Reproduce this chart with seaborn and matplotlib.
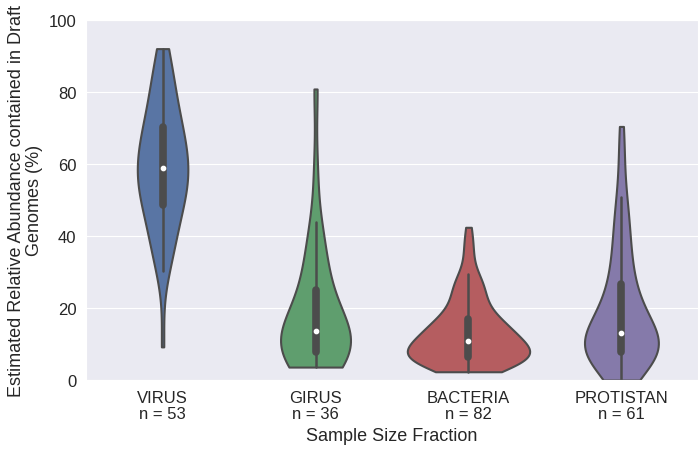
import numpy as np
import pandas as pd
import matplotlib
matplotlib.use("Agg")
import matplotlib.pyplot as plt
import seaborn as sns

# categories and tick labels
fractions = ["VIRUS", "GIRUS", "BACTERIA", "PROTISTAN"]
tick_labels = ["VIRUS\nn = 53", "GIRUS\nn = 36", "BACTERIA\nn = 82", "PROTISTAN\nn = 61"]
colors = ["#4C72B0", "#55A868", "#C44E52", "#8172B2"]

# estimated relative abundance (%) per sample
virus = [9.2, 30.3, 32.0, 34.0, 35.8, 37.5, 39.2, 41.0, 42.6, 44.0, 45.3, 46.4, 47.5,
         48.7, 49.6, 50.5, 51.4, 52.3, 53.1, 53.9, 54.7, 55.5, 56.3, 57.0, 57.6, 58.2,
         58.8, 59.5, 60.3, 61.2, 62.1, 63.0, 63.8, 64.7, 65.6, 66.6, 67.6, 68.5, 69.4,
         70.2, 71.3, 72.5, 73.8, 75.2, 76.7, 78.3, 80.0, 81.8, 83.6, 85.5, 87.5, 89.8, 92.0]
girus = [3.6, 4.2, 4.9, 5.5, 6.0, 6.5, 6.9, 7.2, 7.4, 7.8, 8.3, 8.9, 9.6, 10.3, 11.1,
         11.9, 12.7, 13.3, 13.9, 14.6, 15.5, 16.6, 17.8, 19.2, 20.8, 22.5, 24.6, 26.6,
         29.0, 31.5, 34.0, 37.0, 40.5, 44.0, 58.0, 80.8]
bacteria = [2.3, 2.8, 3.2, 3.6, 3.9, 4.2, 4.4, 4.6, 4.8, 5.0, 5.1, 5.3, 5.4, 5.6, 5.7,
            5.8, 5.9, 6.0, 6.1, 6.2, 6.3,
            6.5, 6.7, 6.9, 7.1, 7.3, 7.5, 7.7, 7.9, 8.1, 8.3, 8.5, 8.7, 8.9, 9.1, 9.3,
            9.6, 9.9, 10.2, 10.5, 10.7,
            10.9, 11.2, 11.5, 11.8, 12.1, 12.4, 12.7, 13.0, 13.3, 13.6, 13.9, 14.2, 14.5,
            14.8, 15.1, 15.4, 15.7, 16.0, 16.3, 16.7,
            17.0, 17.6, 18.3, 19.0, 19.8, 20.6, 21.4, 22.2, 23.0, 23.8, 24.6, 25.4, 26.2,
            27.0, 27.8, 28.6, 29.4, 33.5, 36.0, 38.6, 42.4]
protistan = [0.0, 2.6, 3.9, 4.8, 5.4, 5.9, 6.3, 6.6, 6.8, 7.0, 7.15, 7.3, 7.4, 7.5, 7.6, 7.7,
             8.0, 8.3, 8.6, 8.9, 9.2, 9.5, 9.8, 10.2, 10.6, 11.0, 11.4, 11.8, 12.2, 12.6, 13.0,
             13.6, 14.3, 15.0, 15.8, 16.6, 17.4, 18.2, 19.0, 19.9, 20.8, 21.8, 22.8, 23.9,
             25.2, 26.7,
             28.2, 29.8, 31.5, 33.3, 35.2, 37.2, 39.3, 41.5, 43.8, 46.2, 48.6, 50.9, 58.0,
             64.0, 70.4]

df = pd.DataFrame({
    "fraction": ["VIRUS"] * len(virus) + ["GIRUS"] * len(girus)
                + ["BACTERIA"] * len(bacteria) + ["PROTISTAN"] * len(protistan),
    "abundance": virus + girus + bacteria + protistan,
})

sns.set_style("darkgrid")
plt.rcParams["font.family"] = ["Liberation Sans", "DejaVu Sans"]

fig, ax = plt.subplots(figsize=(7, 4.52), dpi=100)
fig.subplots_adjust(left=0.123, right=0.997, top=0.954, bottom=0.157)

sns.violinplot(data=df, x="fraction", y="abundance", hue="fraction", order=fractions,
               hue_order=fractions, palette=colors, cut=0, density_norm="area",
               common_norm=True, inner="box", linewidth=1.5, width=0.8, saturation=0.75,
               legend=False,
               inner_kws=dict(box_width=5.5, whis_width=1.8, marker="o", markersize=3),
               ax=ax)

ax.set_ylim(0, 100)
ax.set_yticks([0, 20, 40, 60, 80, 100])
ax.set_xticks(range(4))
ax.set_xticklabels(tick_labels, linespacing=1.1)
ax.tick_params(labelsize=12, colors=".15")
ax.set_xlabel("Sample Size Fraction", fontsize=13, color=".15", labelpad=4)
ax.set_ylabel("Estimated Relative Abundance contained in Draft\nGenomes (%)", fontsize=13,
              color=".15", linespacing=1.05)

fig.savefig("out.png", dpi=100)
